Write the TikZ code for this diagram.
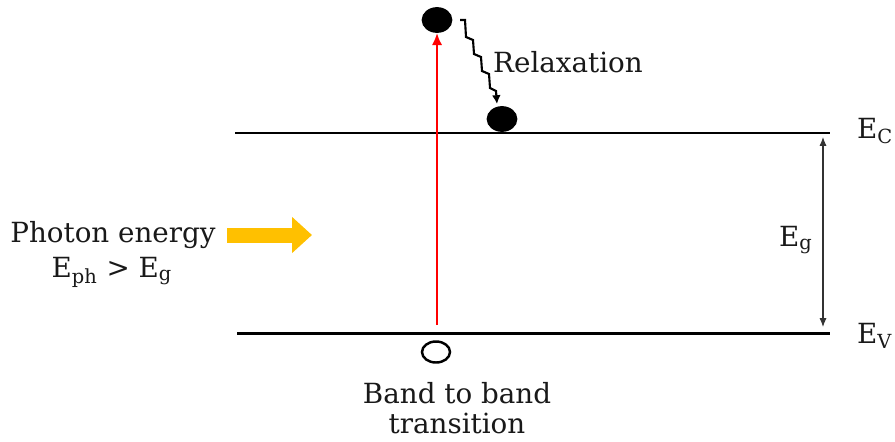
\documentclass[tikz,border=0pt]{standalone}
\usepackage{fontspec}
\setmainfont{DejaVu Serif}
\usetikzlibrary{arrows.meta,shapes.geometric}
\definecolor{photon}{HTML}{FFC000}

\begin{document}
\begin{tikzpicture}[
  band/.style={line width=1.7pt},
  carrier/.style={ellipse, draw, line width=1pt, minimum width=0.58cm, minimum height=0.48cm, inner sep=0pt},
  lbl/.style={font=\fontsize{15.8}{17}\selectfont, inner sep=1pt, text=black!90}
]
\useasboundingbox (0,0) rectangle (17.9,8.82);

% Bands
\draw[band] (4.70,6.16) -- (16.60,6.16);
\draw[band] (4.74,2.16) -- (16.60,2.16);

% Band labels
\node[lbl, anchor=west] (ec) at (17.10,6.20) {E\textsubscript{C}};
\node[lbl, anchor=west] (ev) at (17.10,2.10) {E\textsubscript{V}};

% Gap
\coordinate (gtop) at (16.46,6.08);
\coordinate (gbot) at (16.46,2.28);
\draw[black!80, line width=0.6pt, {Latex[length=5pt,width=4pt]}-{Latex[length=5pt,width=4pt]}] (gtop) -- (gbot);
\node[lbl] (eg) at (15.92,4.02) {E\textsubscript{g}};

% Carriers
\node[carrier, fill=black] (exc) at (8.74,8.42) {};
\node[carrier, fill=black] (rel) at (10.04,6.44) {};
\node[carrier, line width=1.4pt, minimum width=0.56cm, minimum height=0.42cm] (hole) at (8.72,1.78) {};

% Excitation
\coordinate (vb) at (8.74,2.32);
\draw[red, line width=1.6pt, -{Latex[length=7pt,width=6pt]}] (vb) -- (exc.south);

% Relaxation steps
\coordinate (rstart) at (9.20,8.42);
\coordinate (rend) at (9.94,6.74);
\draw[line width=1.2pt, -{Latex[length=5pt,width=5pt]}] (rstart) -- ++(0.10,0)
  -- ++(0.02,-0.34) -- ++(0.14,-0.06) -- ++(0.02,-0.28) -- ++(0.14,-0.06)
  -- ++(0.02,-0.28) -- ++(0.14,-0.06) -- ++(0.02,-0.28) -- ++(0.12,-0.06) -- (rend);
\node[lbl] (relax) at (11.36,7.58) {Relaxation};

% Photon
\node[lbl] (phot) at (2.26,4.12) {Photon energy};
\node[lbl] (eph) at (2.24,3.38) {E\textsubscript{ph} > E\textsubscript{g}};
\coordinate (pa) at (4.54,4.12);
\coordinate (pb) at (6.24,4.12);
\draw[photon, line width=0.3cm, -{Triangle[length=0.4cm,width=0.7cm]}] (pa) -- (pb);

% Transition label
\node[lbl, align=center] (trans) at (9.14,0.66) {Band to band\\transition};

\end{tikzpicture}
\end{document}
